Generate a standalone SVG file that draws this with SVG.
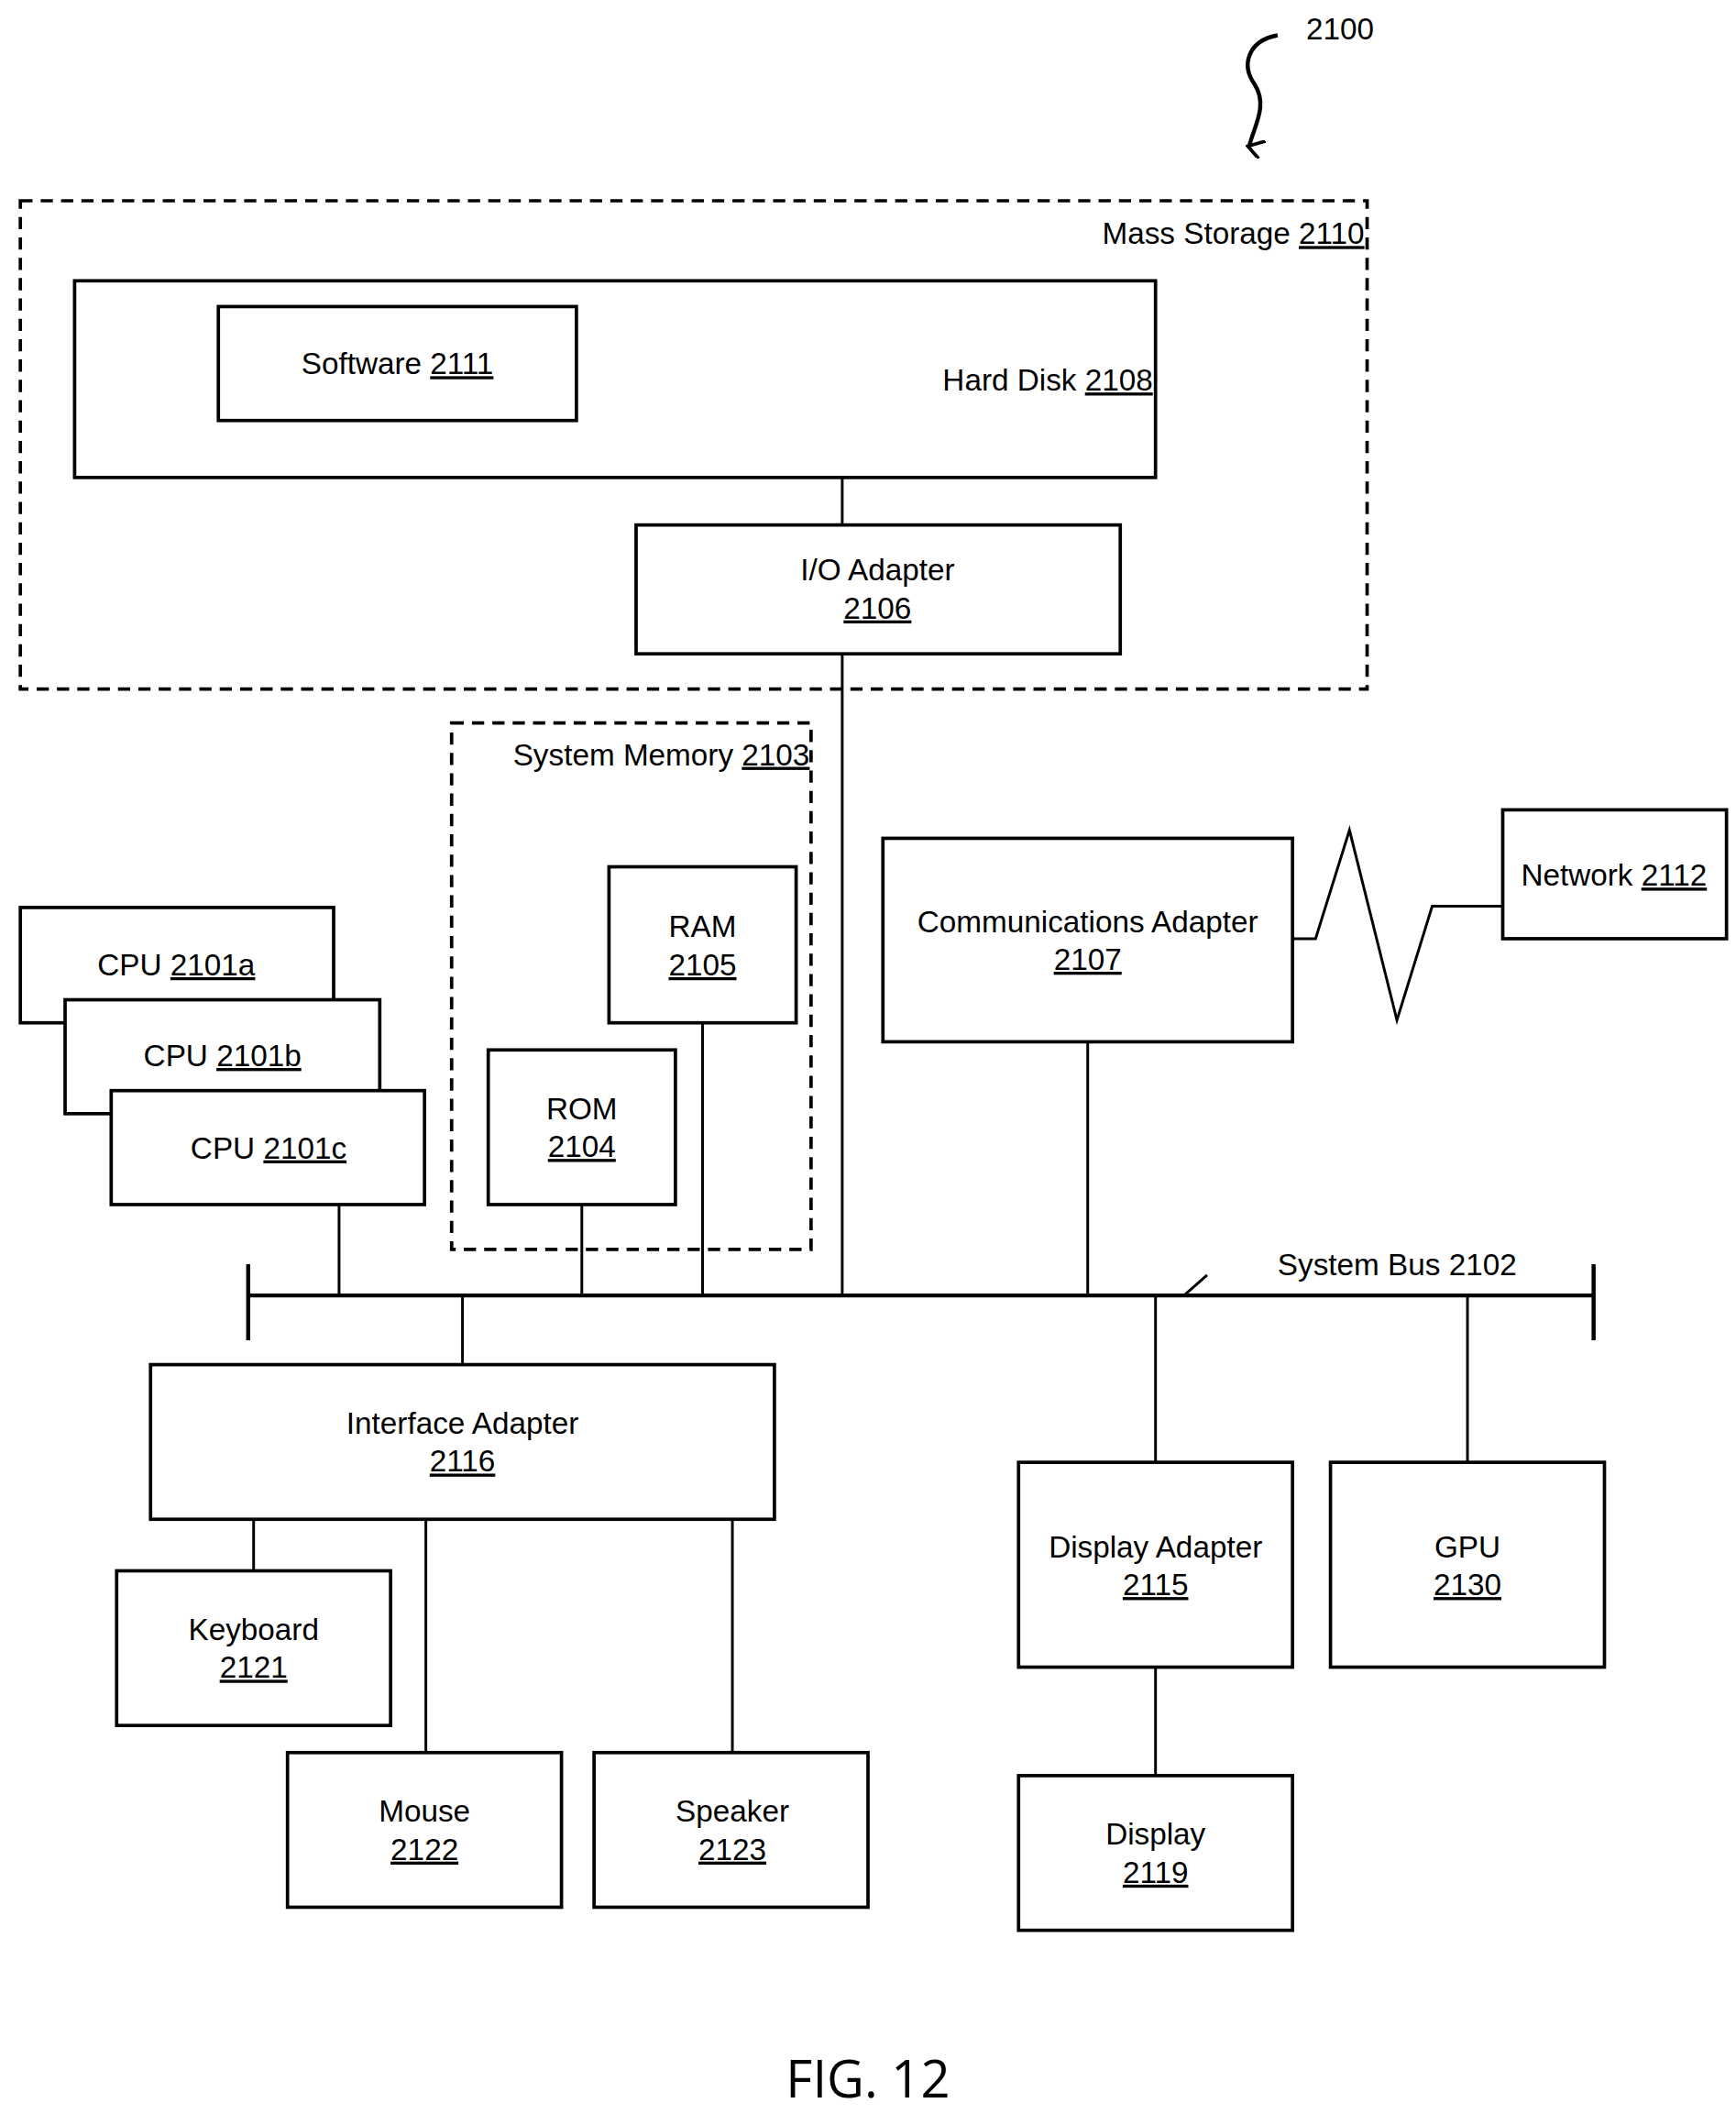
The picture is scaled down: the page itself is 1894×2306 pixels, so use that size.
<svg xmlns="http://www.w3.org/2000/svg" width="1894" height="2306" viewBox="0 0 1894 2306">
<style>
.b{fill:#fff;stroke:#000;stroke-width:2.5}
.d{fill:none;stroke:#000;stroke-width:2.5;stroke-dasharray:9,6}
.l{fill:none;stroke:#000;stroke-width:2}
text{font-family:"Liberation Sans",Arial,sans-serif;font-size:22.5px;fill:#000}
.c{text-anchor:middle}
.u{text-decoration:underline}
</style>
<defs><marker id="ah" markerWidth="14" markerHeight="14" refX="7" refY="11" orient="auto" markerUnits="userSpaceOnUse"><path d="M0,0 L7,12 L14,2" fill="none" stroke="#000" stroke-width="2.5"/></marker></defs>
<rect width="1894" height="2306" fill="#fff"/>
<g transform="scale(1.4797)">
<g id="connectors">
<path class="l" d="M621,352V387M621,482V955M518,754V955M429,888V955M250,888V955M802,768V955M341,955V1006M187,1120V1158M314,1120V1292M540,1120V1292M852,955V1078M1082,955V1078M852,1229V1309"/>
<path class="l" d="M953,692H970L995,612L1030,752L1056,668H1108"/>
<path d="M183,955H1175M183,932V988M1175,932V988" fill="none" stroke="#000" stroke-width="3"/>
<path class="l" d="M873,955L890,940"/>
<path fill="none" stroke="#000" stroke-width="3" d="M942,26C920,30 915,48 925,62C935,78 925,92 921,108" marker-end="url(#ah)"/>
</g>
<text x="963" y="29">2100</text>
<g id="mass"><rect class="d" x="15" y="148" width="993" height="360"/><text x="1006" y="180" text-anchor="end">Mass Storage <tspan class="u">2110</tspan></text></g>
<g id="harddisk"><rect class="b" x="55" y="207" width="797" height="145"/><text x="850" y="288" text-anchor="end">Hard Disk <tspan class="u">2108</tspan></text></g>
<g id="software"><rect class="b" x="161" y="226" width="264" height="84"/><text class="c" x="293" y="276">Software <tspan class="u">2111</tspan></text></g>
<g id="io"><rect class="b" x="469" y="387" width="357" height="95"/><text class="c" x="647" y="428">I/O Adapter</text><text class="c u" x="647" y="456">2106</text></g>
<g id="sysmem"><rect class="d" x="333" y="533" width="265" height="388"/><text x="597" y="564" text-anchor="end">System Memory <tspan class="u">2103</tspan></text></g>
<g id="ram"><rect class="b" x="449" y="639" width="138" height="115"/><text class="c" x="518" y="691">RAM</text><text class="c u" x="518" y="719">2105</text></g>
<g id="rom"><rect class="b" x="360" y="774" width="138" height="114"/><text class="c" x="429" y="825">ROM</text><text class="c u" x="429" y="853">2104</text></g>
<g id="cpua"><rect class="b" x="15" y="669" width="231" height="85"/><text class="c" x="130" y="719">CPU <tspan class="u">2101a</tspan></text></g>
<g id="cpub"><rect class="b" x="48" y="737" width="232" height="84"/><text class="c" x="164" y="786">CPU <tspan class="u">2101b</tspan></text></g>
<g id="cpuc"><rect class="b" x="82" y="804" width="231" height="84"/><text class="c" x="198" y="854">CPU <tspan class="u">2101c</tspan></text></g>
<g id="comm"><rect class="b" x="651" y="618" width="302" height="150"/><text class="c" x="802" y="687">Communications Adapter</text><text class="c u" x="802" y="715">2107</text></g>
<g id="network"><rect class="b" x="1108" y="597" width="165" height="95"/><text class="c" x="1190" y="653">Network <tspan class="u">2112</tspan></text></g>
<text x="942" y="940">System Bus 2102</text>
<g id="iface"><rect class="b" x="111" y="1006" width="460" height="114"/><text class="c" x="341" y="1057">Interface Adapter</text><text class="c u" x="341" y="1085">2116</text></g>
<g id="keyboard"><rect class="b" x="86" y="1158" width="202" height="114"/><text class="c" x="187" y="1209">Keyboard</text><text class="c u" x="187" y="1237">2121</text></g>
<g id="mouse"><rect class="b" x="212" y="1292" width="202" height="114"/><text class="c" x="313" y="1343">Mouse</text><text class="c u" x="313" y="1371">2122</text></g>
<g id="speaker"><rect class="b" x="438" y="1292" width="202" height="114"/><text class="c" x="540" y="1343">Speaker</text><text class="c u" x="540" y="1371">2123</text></g>
<g id="dispadapter"><rect class="b" x="751" y="1078" width="202" height="151"/><text class="c" x="852" y="1148">Display Adapter</text><text class="c u" x="852" y="1176">2115</text></g>
<g id="gpu"><rect class="b" x="981" y="1078" width="202" height="151"/><text class="c" x="1082" y="1148">GPU</text><text class="c u" x="1082" y="1176">2130</text></g>
<g id="display"><rect class="b" x="751" y="1309" width="202" height="114"/><text class="c" x="852" y="1360">Display</text><text class="c u" x="852" y="1388">2119</text></g>
<text class="c" x="640" y="1546" style="font-family:'Open Sans',sans-serif;font-size:38px">FIG. 12</text>
</g>
</svg>
